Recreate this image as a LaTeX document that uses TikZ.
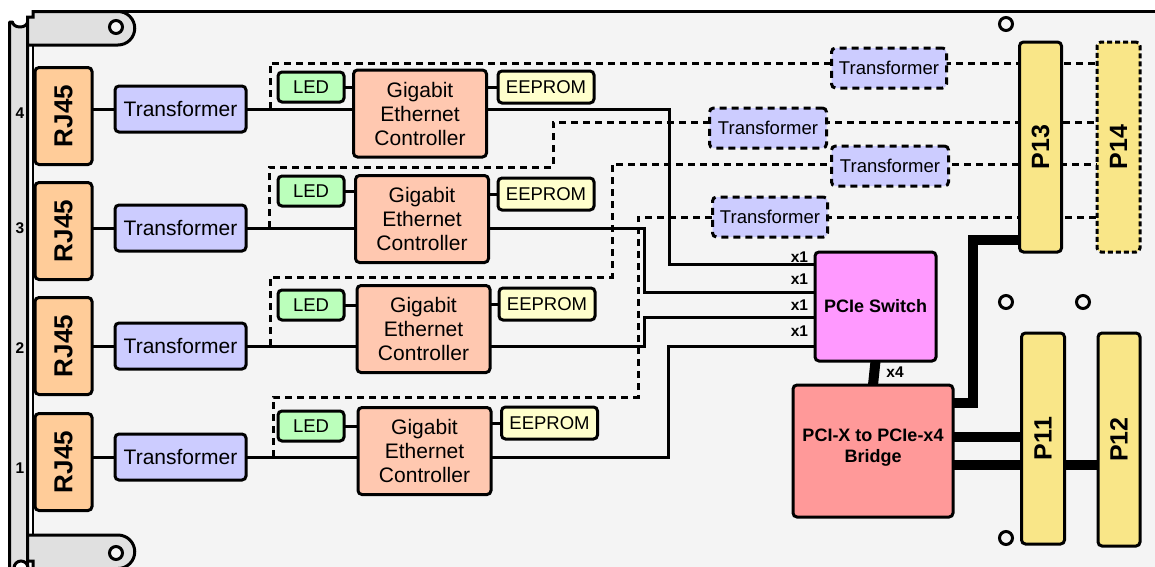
\documentclass[tikz,border=0pt]{standalone}
\usepackage{fontspec}
\setmainfont{Liberation Sans}
\usetikzlibrary{calc}
\definecolor{boardc}{HTML}{F4F4F4}
\definecolor{panelc}{HTML}{E0E0E0}
\definecolor{rjc}{HTML}{FFCC99}
\definecolor{trc}{HTML}{CCCCFF}
\definecolor{ledc}{HTML}{BBFFBB}
\definecolor{eec}{HTML}{FFFFCC}
\definecolor{ctlc}{HTML}{FFC8B0}
\definecolor{swc}{HTML}{FF99FF}
\definecolor{brc}{HTML}{FF9999}
\definecolor{pc}{HTML}{F9E688}
\pgfdeclarelayer{bg}
\pgfsetlayers{bg,main}
\begin{document}
\begin{tikzpicture}[x=1pt,y=-1pt,
  every node/.style={inner sep=0pt, outer sep=0pt},
  blk/.style={draw, line width=3pt, rounded corners=4pt, align=center},
  rjbox/.style={blk, fill=rjc, minimum width=57pt, minimum height=97pt},
  rjtext/.style={rotate=90, font=\fontsize{26}{28}\selectfont\bfseries},
  trbox/.style={blk, fill=trc, minimum width=131pt, minimum height=46pt, font=\fontsize{21}{24}\selectfont},
  ctlbox/.style={blk, fill=ctlc, minimum width=133pt, minimum height=87pt, font=\fontsize{21}{24}\selectfont},
  ledbox/.style={blk, fill=ledc, minimum width=66pt, minimum height=30pt, font=\fontsize{18.5}{20}\selectfont},
  eebox/.style={blk, fill=eec, minimum width=96pt, minimum height=32pt, font=\fontsize{18.5}{20}\selectfont},
  ttbox/.style={blk, fill=trc, dash pattern=on 7pt off 5pt, minimum width=115pt, minimum height=40pt, font=\fontsize{18.5}{20}\selectfont},
  pbox/.style={blk, fill=pc, minimum width=42pt, minimum height=210pt},
  ptext/.style={rotate=90, font=\fontsize{25}{27}\selectfont\bfseries},
  lbl/.style={font=\fontsize{15.5}{17}\selectfont\bfseries},
  wire/.style={line width=3pt},
  dashln/.style={line width=3pt, dash pattern=on 7pt off 5pt},
  thk/.style={line width=10pt, line join=miter},
  hole/.style={draw, line width=3pt, fill=boardc, circle, minimum size=13pt}
]
\useasboundingbox (0,0) rectangle (1155,566);

% ---------------- board and front panel ----------------
\begin{pgfonlayer}{bg}
  \fill[white] (0,0) rectangle (1155,566);
  \fill[boardc] (33,11.5) rectangle (1160,570);
  \draw[line width=3pt] (33,11.5) -- (1160,11.5);
  \draw[line width=2pt] (32.5,45) -- (32.5,535);
  \draw[line width=3pt, fill=panelc, line join=round]
    (9.5,22) -- (12.5,22) arc[start angle=180, end angle=0, x radius=7.5, y radius=5]
    -- (27.5,22) -- (27.5,570) -- (9.5,570) -- cycle;
  \draw[line width=3pt, fill=white] (21,568) circle[radius=7];
  \draw[line width=3pt, fill=panelc, line join=miter]
    (27.5,45) -- (27.5,17) -- (33,17) -- (33,11.5) -- (118,11.5)
    arc[start angle=-90, end angle=90, radius=16.75] -- cycle;
  \draw[line width=3pt, fill=panelc, line join=miter]
    (27.5,535) -- (118,535) arc[start angle=-90, end angle=90, radius=16.75]
    -- (33,568.5) -- (33,561) -- (27.5,561) -- cycle;
\end{pgfonlayer}

\node[hole] (h1) at (116,27) {};
\node[hole] (h2) at (116,553) {};
\node[hole] (h3) at (1006,24) {};
\node[hole] (h4) at (1006,302) {};
\node[hole] (h5) at (1083,302) {};
\node[hole] (h6) at (1006,538) {};

% port numbers
\node[lbl] (n4) at (20,113) {4};
\node[lbl] (n3) at (20,228) {3};
\node[lbl] (n2) at (20,348) {2};
\node[lbl] (n1) at (20,468) {1};

% ---------------- RJ45 ----------------
\node[rjbox] (rj4) at (63.5,116) {};
\node[rjtext] (rj4t) at (rj4) {RJ45};
\node[rjbox] (rj3) at (63.5,231) {};
\node[rjtext] (rj3t) at (rj3) {RJ45};
\node[rjbox] (rj2) at (63.5,346) {};
\node[rjtext] (rj2t) at (rj2) {RJ45};
\node[rjbox] (rj1) at (63.5,462) {};
\node[rjtext] (rj1t) at (rj1) {RJ45};

% ---------------- Transformers (left) ----------------
\node[trbox] (tr4) at (180.5,109) {Transformer};
\node[trbox] (tr3) at (180.5,228) {Transformer};
\node[trbox] (tr2) at (180.5,346) {Transformer};
\node[trbox] (tr1) at (180.5,457) {Transformer};

% ---------------- Controllers ----------------
\node[ctlbox] (ctl4) at (420,113.5) {Gigabit\\Ethernet\\Controller};
\node[ctlbox] (ctl3) at (422,219) {Gigabit\\Ethernet\\Controller};
\node[ctlbox] (ctl2) at (423.5,329) {Gigabit\\Ethernet\\Controller};
\node[ctlbox] (ctl1) at (424.5,451) {Gigabit\\Ethernet\\Controller};

\node[ledbox] (led4) at (311,87) {LED};
\node[ledbox] (led3) at (311,191) {LED};
\node[ledbox] (led2) at (311,305) {LED};
\node[ledbox] (led1) at (311,426) {LED};

\node[eebox] (ee4) at (546,87) {EEPROM};
\node[eebox] (ee3) at (546,194) {EEPROM};
\node[eebox] (ee2) at (547,304) {EEPROM};
\node[eebox] (ee1) at (549.5,423) {EEPROM};

% ---------------- Transformers (right, dashed) ----------------
\node[ttbox] (tt1) at (889,68) {Transformer};
\node[ttbox, minimum width=117pt] (tt2) at (768,128) {Transformer};
\node[ttbox, minimum width=117pt] (tt3) at (890,166) {Transformer};
\node[ttbox] (tt4) at (770,217) {Transformer};

% ---------------- PCIe switch and bridge ----------------
\node[blk, fill=swc, minimum width=121pt, minimum height=109pt,
      font=\fontsize{18}{21}\selectfont\bfseries] (sw) at (875.5,306.5) {PCIe Switch};
\node[blk, fill=brc, minimum width=160pt, minimum height=132pt,
      font=\fontsize{18}{21}\selectfont\bfseries] (br) at (873,451) {};
\node[font=\fontsize{18}{21}\selectfont\bfseries, align=center] (brt) at (873,448) {PCI-X to PCIe-x4\\Bridge};

\node[lbl, anchor=east] (xa) at (808,257) {x1};
\node[lbl, anchor=east] (xb) at (808,279) {x1};
\node[lbl, anchor=east] (xc) at (808,305) {x1};
\node[lbl, anchor=east] (xd) at (808,331) {x1};
\node[lbl] (xe) at (895,372) {x4};

% ---------------- connectors P ----------------
\node[pbox] (P13) at (1040.5,147) {};
\node[ptext] (P13t) at (P13) {P13};
\node[pbox, dash pattern=on 5pt off 3pt, minimum width=43pt] (P14) at (1118.5,147) {};
\node[ptext] (P14t) at (P14) {P14};
\node[pbox, minimum width=43pt, minimum height=211pt] (P11) at (1043,438.5) {};
\node[ptext] (P11t) at (P11) {P11};
\node[pbox, minimum height=213pt] (P12) at (1119,439.5) {};
\node[ptext] (P12t) at (P12) {P12};

% ---------------- wires ----------------
\coordinate (q4a) at (270,109);  \coordinate (q4b) at (270,63);
\coordinate (q3a) at (269,228);  \coordinate (q3b) at (553,167); \coordinate (q3c) at (553,122);
\coordinate (q2a) at (270,346);  \coordinate (q2b) at (612,277); \coordinate (q2c) at (612,164);
\coordinate (q1a) at (273,457);  \coordinate (q1b) at (638,397); \coordinate (q1c) at (638,217);

\coordinate (k4) at (669,264);
\coordinate (k3) at (644,292);
\coordinate (k2) at (644,317);
\coordinate (k1) at (668,346);

\coordinate (m1) at (973,403);
\coordinate (m2) at (973,240);
\coordinate (m3) at (0,437);
\coordinate (m4) at (0,465);

\begin{pgfonlayer}{bg}
  % dashed transformer paths
  \draw[dashln] (q4a) -- (q4b) -- (q4b -| P14.west);
  \draw[dashln] (q3a) |- (q3b) -- (q3c) -- (q3c -| P14.west);
  \draw[dashln] (q2a) |- (q2b) -- (q2c) -- (q2c -| P14.west);
  \draw[dashln] (q1a) |- (q1b) -- (q1c) -- (q1c -| P14.west);

  % RJ45 - transformer - controller
  \foreach \i in {1,2,3,4} {
    \draw[wire] (tr\i.west) -- (tr\i.west -| rj\i.east);
    \draw[wire] (tr\i.east) -- (tr\i.east -| ctl\i.west);
    \draw[wire] (led\i.east) -- (led\i.east -| ctl\i.west);
    \draw[wire] (ee\i.west) -- (ee\i.west -| ctl\i.east);
  }

  % controller - switch
  \draw[wire, line join=miter] (ctl4.east |- tr4) -| (k4) -- (k4 -| sw.west);
  \draw[wire, line join=miter] (ctl3.east |- tr3) -| (k3) -- (k3 -| sw.west);
  \draw[wire, line join=miter] (ctl2.east |- tr2) -| (k2) -- (k2 -| sw.west);
  \draw[wire, line join=miter] (ctl1.east |- tr1) -| (k1) -- (k1 -| sw.west);

  % thick buses
  \draw[thk] (sw.south) -- (br.north);
  \draw[thk] (br.east |- m1) -- (m1) -- (m2) -- (m2 -| P13.west);
  \draw[thk] (br.east |- m3) -- (P11.west |- m3);
  \draw[thk] (br.east |- m4) -- (P11.west |- m4);
  \draw[thk] (P11.east |- m4) -- (P12.west |- m4);
\end{pgfonlayer}
\end{tikzpicture}
\end{document}
